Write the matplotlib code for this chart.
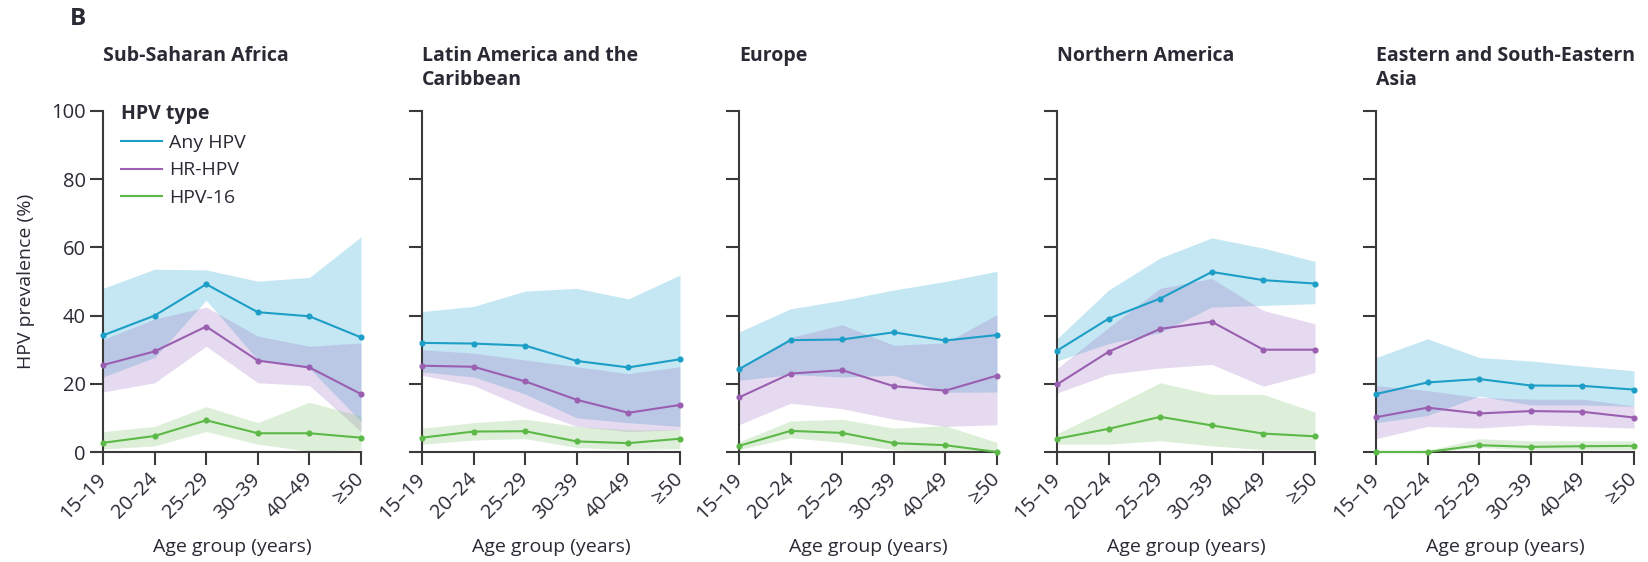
import matplotlib.pyplot as plt
from matplotlib.transforms import ScaledTranslation

plt.rcParams["font.family"] = ["Open Sans", "DejaVu Sans"]

regions = [
    "Sub-Saharan Africa",
    "Latin America and the\nCaribbean",
    "Europe",
    "Northern America",
    "Eastern and South-Eastern\nAsia",
]
age_groups = ["15–19", "20–24", "25–29", "30–39", "40–49", "≥50"]
y_ticks = [0, 20, 40, 60, 80, 100]

# one row per region, one value per age group
any_hpv = [
    [34.2, 40.0, 49.2, 41.0, 39.8, 33.6],
    [32.0, 31.8, 31.2, 26.7, 24.8, 27.2],
    [24.3, 32.8, 33.0, 35.1, 32.7, 34.3],
    [29.7, 39.1, 45.0, 52.8, 50.4, 49.4],
    [17.0, 20.4, 21.4, 19.5, 19.4, 18.3],
]
any_lo = [
    [22.0, 27.7, 44.5, 27.0, 24.5, 9.0],
    [23.5, 22.0, 17.0, 10.0, 8.6, 7.5],
    [21.0, 22.7, 22.0, 22.5, 17.5, 17.6],
    [26.7, 31.8, 35.0, 42.5, 43.0, 43.5],
    [8.6, 10.7, 16.4, 13.8, 13.8, 13.4],
]
any_hi = [
    [48.0, 53.6, 53.4, 50.1, 51.2, 63.1],
    [41.2, 42.7, 47.2, 48.0, 44.9, 51.9],
    [35.2, 42.0, 44.5, 47.5, 50.0, 53.0],
    [33.2, 47.5, 56.9, 62.8, 59.8, 55.9],
    [27.7, 33.2, 27.7, 26.7, 25.2, 23.8],
]

hr_hpv = [
    [25.5, 29.5, 36.8, 26.8, 24.8, 17.0],
    [25.3, 25.0, 20.7, 15.3, 11.5, 13.8],
    [16.0, 23.0, 24.0, 19.3, 18.0, 22.4],
    [19.8, 29.4, 36.1, 38.2, 30.0, 30.0],
    [10.2, 13.0, 11.3, 12.0, 11.8, 10.1],
]
hr_lo = [
    [17.6, 20.3, 31.0, 20.3, 19.5, 6.0],
    [22.5, 19.5, 13.0, 7.5, 6.0, 6.5],
    [8.0, 14.3, 12.7, 9.6, 7.5, 8.0],
    [17.3, 22.8, 24.6, 25.7, 19.3, 23.3],
    [3.9, 7.5, 7.0, 8.0, 7.5, 7.0],
]
hr_hi = [
    [33.0, 39.0, 42.5, 34.0, 31.0, 32.0],
    [30.0, 29.0, 27.0, 25.0, 23.0, 25.0],
    [24.5, 33.6, 37.3, 31.3, 32.0, 40.3],
    [24.5, 36.5, 48.0, 50.9, 41.5, 37.6],
    [19.5, 18.0, 16.0, 15.5, 15.5, 13.5],
]

hpv16 = [
    [2.7, 4.7, 9.3, 5.5, 5.5, 4.2],
    [4.2, 6.0, 6.1, 3.1, 2.6, 3.9],
    [1.8, 6.2, 5.6, 2.6, 2.0, 0.0],
    [3.9, 6.8, 10.3, 7.8, 5.4, 4.6],
    [0.0, 0.0, 2.0, 1.5, 1.7, 1.8],
]
hpv16_lo = [
    [0.9, 1.8, 6.0, 2.3, 0.2, 0.7],
    [2.3, 3.5, 3.9, 1.3, 0.7, 1.0],
    [0.7, 4.2, 2.8, 0.7, 0.2, 0.0],
    [2.3, 2.3, 3.3, 1.8, 0.7, 0.7],
    [0.0, 0.0, 1.3, 0.7, 0.7, 0.7],
]
hpv16_hi = [
    [6.0, 7.5, 13.3, 8.6, 14.6, 10.5],
    [7.0, 8.6, 9.6, 7.5, 6.5, 6.5],
    [3.0, 9.1, 9.6, 7.0, 7.7, 2.8],
    [5.4, 12.7, 20.3, 16.9, 16.9, 11.7],
    [0.3, 0.5, 3.9, 3.3, 3.3, 3.3],
]

series = [
    ("Any HPV", any_hpv, any_lo, any_hi, "#1c9ec6", "#29a9d6", 0.27),
    ("HR-HPV", hr_hpv, hr_lo, hr_hi, "#9a5fb0", "#9b6fc0", 0.25),
    ("HPV-16", hpv16, hpv16_lo, hpv16_hi, "#5cb947", "#7cc26a", 0.25),
]

axis_col = "#3a3a3a"
text_col = "#2a2a35"
fs = 14

fig = plt.figure(figsize=(16.48, 5.62), dpi=100)
W, H = 1648, 562

lefts = [103, 422, 739, 1057, 1376]
ax_w, ax_top, ax_bot = 258, 111, 452
ax_h = ax_bot - ax_top

x = list(range(len(age_groups)))
axes = []
for i, region in enumerate(regions):
    ax = fig.add_axes([lefts[i] / W, 1 - ax_bot / H, ax_w / W, ax_h / H])
    axes.append(ax)

    for name, mid, lo, hi, lc, fc, a in series:
        ax.fill_between(x, lo[i], hi[i], color=fc, alpha=a, lw=0)
    for name, mid, lo, hi, lc, fc, a in series:
        ax.plot(x, mid[i], color=lc, lw=1.5, marker="o", ms=3.4,
                label=name, clip_on=False, zorder=4)

    ax.set_xlim(0, len(age_groups) - 1)
    ax.set_ylim(0, 100)
    ax.set_yticks(y_ticks)
    ax.set_xticks(x)
    ax.set_xticklabels(age_groups, rotation=45, ha="right", va="center",
                       rotation_mode="anchor")
    for lab in ax.get_xticklabels():
        lab.set_transform(lab.get_transform() + ScaledTranslation(8 / 100, 0, fig.dpi_scale_trans))
    if i == 0:
        ax.set_yticklabels([str(t) for t in y_ticks])
        ax.set_ylabel("HPV prevalence (%)", fontsize=fs, color=text_col, va="center")
        ax.yaxis.set_label_coords((26 - lefts[0]) / ax_w, 0.5)
    else:
        ax.set_yticklabels([])
    ax.set_xlabel("Age group (years)", fontsize=fs, color=text_col)
    ax.xaxis.set_label_coords(0.5, -(538 - ax_bot) / ax_h)

    for s in ["top", "right"]:
        ax.spines[s].set_visible(False)
    for s in ["left", "bottom"]:
        ax.spines[s].set_color(axis_col)
        ax.spines[s].set_linewidth(1.5)
    ax.tick_params(length=9.5, width=1.5, color=axis_col, labelsize=14.5,
                   labelcolor=text_col, pad=3)
    ax.tick_params(axis="x", pad=8)

    ax.text(0, 1 + (ax_top - 46) / ax_h, region, transform=ax.transAxes,
            ha="left", va="top", fontsize=14, fontweight="bold",
            color=text_col, linespacing=1.24)

leg = axes[0].legend(loc="upper left", bbox_to_anchor=((121 - lefts[0]) / ax_w, 1 + (ax_top - 104) / ax_h),
                     frameon=False, title="HPV type", fontsize=fs, title_fontsize=fs,
                     handlelength=2.1, handletextpad=0.35, labelspacing=0.5,
                     borderaxespad=0, borderpad=0)
leg.get_title().set_fontweight("bold")
leg.get_title().set_color(text_col)
leg._legend_box.align = "left"
for t in leg.get_texts():
    t.set_color(text_col)
for h in leg.legend_handles:
    h.set_marker("")

fig.text(70 / W, 1 - 19 / H, "B", fontsize=17.5, fontweight="bold",
         color=text_col, ha="left", va="center")

fig.savefig("out.png", dpi=100)
